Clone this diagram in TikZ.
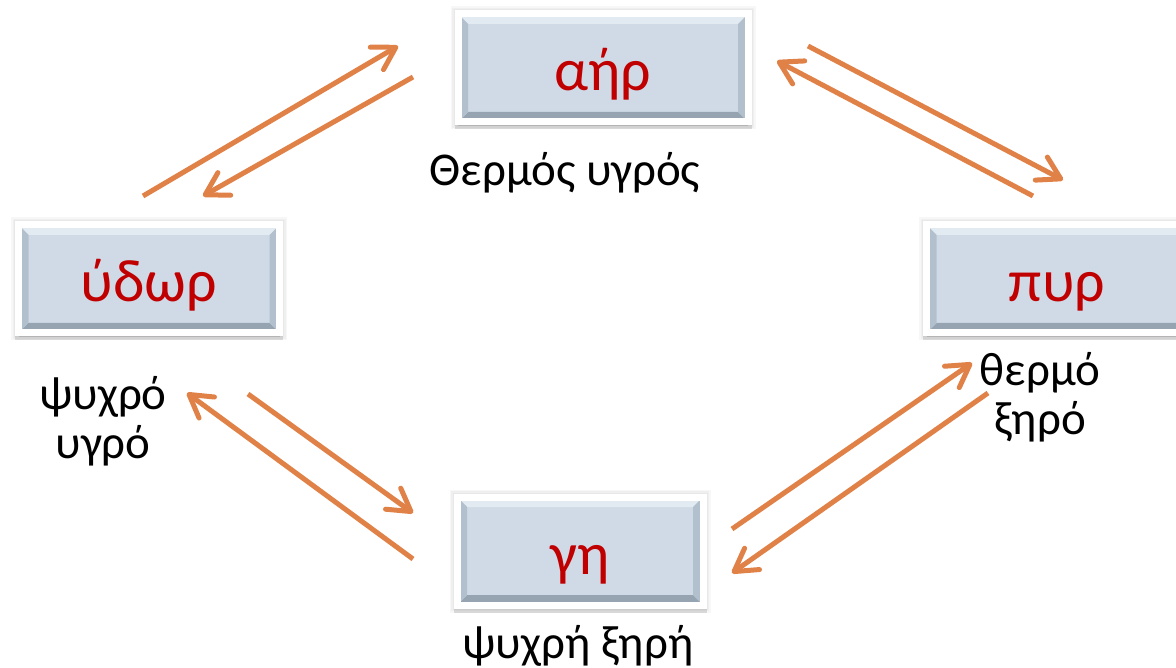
\documentclass[tikz,border=0pt]{standalone}
\usepackage{fontspec}
\setmainfont{Carlito}
\usetikzlibrary{arrows.meta,shadows}
\definecolor{boxblue}{RGB}{207,218,230}
\definecolor{bevelhi}{RGB}{226,234,242}
\definecolor{bevelmid}{RGB}{178,192,206}
\definecolor{bevello}{RGB}{150,164,178}
\definecolor{elemred}{RGB}{192,0,0}
\definecolor{arroworange}{RGB}{224,129,72}

\begin{document}
\begin{tikzpicture}
  [x=1pt,y=-1pt,auto=left]
      \tikzstyle{element_box} = [fill=boxblue, draw=white, line width=7pt, minimum height=108pt, inner sep=0pt,
        text=elemred, font=\fontsize{60}{66}\selectfont, text height=46pt, text depth=0pt,
        general shadow={fill=black, draw=black, opacity=.03, line width=15pt},
        general shadow={fill=black, draw=black, opacity=.03, line width=12pt},
        general shadow={fill=black, draw=black, opacity=.03, line width=9pt},
        drop shadow={shadow xshift=0pt, shadow yshift=-4pt, opacity=.18, fill=black!70, draw=black!70},
        path picture={
          \fill[bevelhi] (path picture bounding box.north west) -- (path picture bounding box.north east)
            -- ([xshift=-10pt,yshift=-10pt]path picture bounding box.north east) -- ([xshift=10pt,yshift=-10pt]path picture bounding box.north west) -- cycle;
          \fill[bevello] (path picture bounding box.south west) -- (path picture bounding box.south east)
            -- ([xshift=-10pt,yshift=10pt]path picture bounding box.south east) -- ([xshift=10pt,yshift=10pt]path picture bounding box.south west) -- cycle;
          \fill[bevelmid] (path picture bounding box.south west) -- (path picture bounding box.north west)
            -- ([xshift=10pt,yshift=-10pt]path picture bounding box.north west) -- ([xshift=10pt,yshift=10pt]path picture bounding box.south west) -- cycle;
          \fill[bevelmid] (path picture bounding box.south east) -- (path picture bounding box.north east)
            -- ([xshift=-10pt,yshift=-10pt]path picture bounding box.north east) -- ([xshift=-10pt,yshift=10pt]path picture bounding box.south east) -- cycle;
        }]
      \tikzstyle{edge_style} = [draw=arroworange, line width=5pt, -{Straight Barb[length=22pt, width=26pt, line cap=round, line join=round]}]
      \tikzstyle{quality} = [font=\fontsize{47}{49}\selectfont, align=center, anchor=base]
  \useasboundingbox (0,0) rectangle (1176,668);
  \node[element_box, minimum width=290pt] (aer) at (603,68) {αήρ};
  \node[element_box, minimum width=261pt] (ydor) at (149,279) {ύδωρ};
  \node[element_box, minimum width=261pt] (pyr) at (1057,279) {πυρ};
  \node[element_box, minimum width=246pt] (gi) at (580,551) {γη};
  \node[quality] (aer_q) at (565,186) {Θερμός υγρός};
  \node[quality] (ydor_q) at (103,458) {ψυχρό\\υγρό};
  \node[quality] (pyr_q) at (1040,435) {θερμό\\ξηρό};
  \node[quality] (gi_q) at (578,658) {ψυχρή ξηρή};
  \coordinate (a1) at (143,196);
  \coordinate (a2) at (398,46);
  \coordinate (b1) at (413,77);
  \coordinate (b2) at (203,196);
  \coordinate (c1) at (808,46);
  \coordinate (c2) at (1063,180);
  \coordinate (d1) at (1033,196);
  \coordinate (d2) at (777,61);
  \coordinate (e1) at (248,394);
  \coordinate (e2) at (413,513);
  \coordinate (f1) at (413,559);
  \coordinate (f2) at (187,393);
  \coordinate (g1) at (732,529);
  \coordinate (g2) at (972,363);
  \coordinate (h1) at (988,393);
  \coordinate (h2) at (732,573);
  \draw[edge_style] (a1) -- (a2);
  \draw[edge_style] (b1) -- (b2);
  \draw[edge_style] (c1) -- (c2);
  \draw[edge_style] (d1) -- (d2);
  \draw[edge_style] (e1) -- (e2);
  \draw[edge_style] (f1) -- (f2);
  \draw[edge_style] (g1) -- (g2);
  \draw[edge_style] (h1) -- (h2);
\end{tikzpicture}
\end{document}
